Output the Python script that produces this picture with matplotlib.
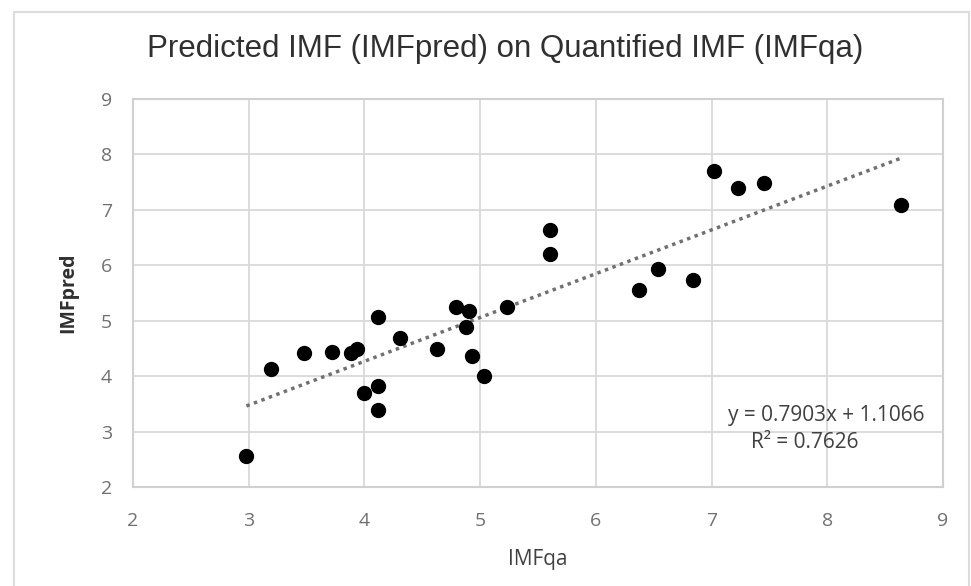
import matplotlib
matplotlib.use("Agg")
import matplotlib.pyplot as plt
from matplotlib.patches import Rectangle

# Data
imf_qa = [2.98, 3.19, 3.48, 3.72, 3.88, 3.94, 4.00, 4.12, 4.12, 4.12, 4.31, 4.63,
          4.79, 4.90, 4.88, 4.93, 5.03, 5.23, 5.60, 5.60, 6.37, 6.54, 6.84, 7.02,
          7.23, 7.45, 8.64]
imf_pred = [2.56, 4.13, 4.41, 4.43, 4.41, 4.49, 3.69, 3.83, 3.39, 5.06, 4.69, 4.49,
            5.25, 5.18, 4.89, 4.37, 4.00, 5.24, 6.63, 6.20, 5.56, 5.94, 5.73, 7.70,
            7.39, 7.49, 7.09]
slope = 0.7903
intercept = 1.1066
r2 = 0.7626
ticks = [2, 3, 4, 5, 6, 7, 8, 9]

fig = plt.figure(figsize=(9.71, 5.86), dpi=100)
fig.patches.append(Rectangle((14/971, -0.01), (969-14)/971, 1 - 12/586 + 0.01,
                             transform=fig.transFigure, fill=False,
                             edgecolor="#dcdcdc", linewidth=1.5))
ax = fig.add_axes([133/971, 1-487/586, (943-133)/971, (487-99)/586])

ax.set_xlim(2, 9)
ax.set_ylim(2, 9)
ax.set_xticks(ticks)
ax.set_yticks(ticks)
ax.grid(True, color="#d9d9d9", linewidth=1.3)
ax.set_axisbelow(True)
for sp in ax.spines.values():
    sp.set_color("#d0d0d0")
    sp.set_linewidth(1.5)
ax.tick_params(length=0, labelsize=14, labelcolor="#707070")
ax.tick_params(axis="x", pad=18)
ax.tick_params(axis="y", pad=15)
for lab in ax.get_xticklabels() + ax.get_yticklabels():
    lab.set_fontfamily("Open Sans")

x0, x1 = min(imf_qa), max(imf_qa)
ax.plot([x0, x1], [slope*x0 + intercept, slope*x1 + intercept],
        linestyle=(0, (1, 1.3)), color="#707070", linewidth=2.5)
ax.scatter(imf_qa, imf_pred, s=100, color="black", zorder=3)

ax.text((826.5-133)/810, (487-415)/388, f"y = {slope}x + {intercept}", transform=ax.transAxes,
        ha="center", va="center", fontsize=15, color="#404040", family="Open Sans")
ax.text((805-133)/810, (487-443)/388, f"R² = {r2}", transform=ax.transAxes,
        ha="center", va="center", fontsize=15, color="#404040", family="Open Sans")

ax.set_xlabel("IMFqa", fontsize=15, color="#404040", family="Open Sans", labelpad=14)
ax.set_ylabel("IMFpred", fontsize=14, color="#303030", family="Open Sans",
              fontweight="bold", labelpad=16)
fig.text(505/971, 1-49/586, "Predicted IMF (IMFpred) on Quantified IMF (IMFqa)",
         ha="center", va="center", fontsize=22.5, color="#303030",
         family=["Liberation Sans Narrow", "Liberation Sans"])

fig.savefig("out.png", dpi=100)
